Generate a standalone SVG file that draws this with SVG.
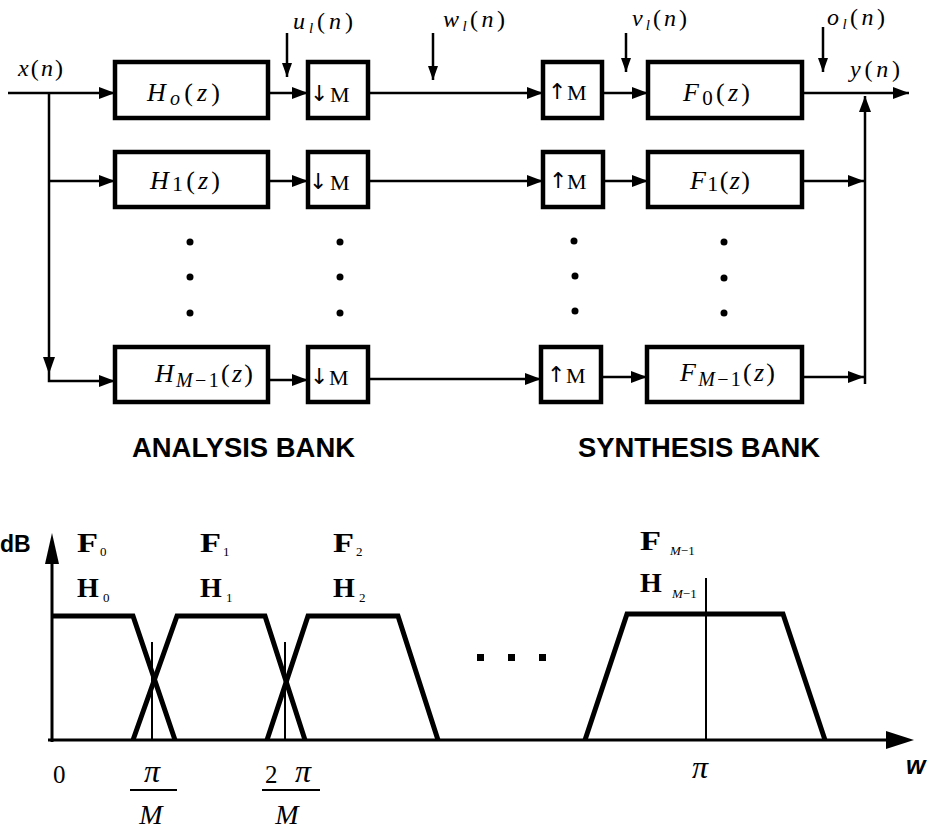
<svg xmlns="http://www.w3.org/2000/svg" width="928" height="833" viewBox="0 0 928 833">
<style>
.box{fill:#fff;stroke:#000;stroke-width:4.5}
.ln{fill:none;stroke:#000;stroke-width:2.5}
.thin{fill:none;stroke:#000;stroke-width:2}
.trap{fill:none;stroke:#000;stroke-width:5;stroke-linejoin:miter}
.math{font-family:"Liberation Serif","DejaVu Serif",serif;font-style:italic;font-size:24px;fill:#000}
.bm{font-family:"Liberation Serif","DejaVu Serif",serif;font-style:italic;font-size:26px;fill:#000}
.up{font-style:normal}
.lbl{font-family:"Liberation Serif","DejaVu Serif",serif;font-size:22px;fill:#000}
.arr{font-family:"DejaVu Sans",sans-serif;font-size:22px;fill:#000}
.bank{font-family:"Liberation Sans","Arial",sans-serif;font-weight:bold;font-size:28px;fill:#000}
.gl{font-family:"Liberation Serif","DejaVu Serif",serif;font-weight:bold;font-size:28px;fill:#000}
.gs{font-family:"Liberation Serif","DejaVu Serif",serif;font-size:13px;fill:#000}
.big{font-family:"Liberation Serif","DejaVu Serif",serif;font-style:italic;font-size:28px;fill:#000}
.pi{font-family:"Liberation Serif","DejaVu Serif",serif;font-style:italic;font-size:32px;fill:#000}
.dot{fill:#000}
</style>
<defs>
<marker id="ah" viewBox="0 0 16 12" refX="16" refY="6" markerWidth="16" markerHeight="12" markerUnits="userSpaceOnUse" orient="auto">
<path d="M0,0 L16,6 L0,12 z" fill="#000"/>
</marker>
<marker id="ahs" viewBox="0 0 14 10" refX="14" refY="5" markerWidth="14" markerHeight="10" markerUnits="userSpaceOnUse" orient="auto">
<path d="M0,0 L14,5 L0,10 z" fill="#000"/>
</marker>
</defs>

<g id="connectors">
<line class="ln" x1="8" y1="93" x2="115" y2="93" marker-end="url(#ah)"/>
<path class="ln" d="M49,93 V381 H115" marker-end="url(#ah)"/>
<polygon points="43,357 55,357 49,374" fill="#000"/>
<line class="ln" x1="49" y1="181" x2="115" y2="181" marker-end="url(#ah)"/>
<line class="ln" x1="268" y1="93" x2="308" y2="93" marker-end="url(#ah)"/>
<line class="ln" x1="268" y1="181" x2="308" y2="181" marker-end="url(#ah)"/>
<line class="ln" x1="268" y1="380" x2="308" y2="380" marker-end="url(#ah)"/>
<line class="ln" x1="368" y1="93" x2="543" y2="93" marker-end="url(#ah)"/>
<line class="ln" x1="368" y1="181" x2="543" y2="181" marker-end="url(#ah)"/>
<line class="ln" x1="368" y1="379" x2="541" y2="379" marker-end="url(#ah)"/>
<line class="ln" x1="602" y1="93" x2="648" y2="93" marker-end="url(#ah)"/>
<line class="ln" x1="603" y1="181" x2="648" y2="181" marker-end="url(#ah)"/>
<line class="ln" x1="601" y1="377" x2="647" y2="377" marker-end="url(#ah)"/>
<line class="ln" x1="802" y1="93" x2="909" y2="93" marker-end="url(#ah)"/>
<line class="ln" x1="802" y1="181" x2="864" y2="181" marker-end="url(#ah)"/>
<line class="ln" x1="802" y1="377" x2="864" y2="377" marker-end="url(#ah)"/>
<line class="ln" x1="865" y1="384" x2="865" y2="96" marker-end="url(#ah)"/>
<line class="ln" x1="287" y1="33" x2="287" y2="77" marker-end="url(#ahs)"/>
<line class="ln" x1="433" y1="33" x2="433" y2="80" marker-end="url(#ahs)"/>
<line class="ln" x1="626" y1="33" x2="626" y2="72" marker-end="url(#ahs)"/>
<line class="ln" x1="823" y1="27" x2="823" y2="72" marker-end="url(#ahs)"/>
</g>

<g id="labels">
<text class="math" x="18" y="76" textLength="45" lengthAdjust="spacing">x<tspan class="up">(</tspan>n<tspan class="up">)</tspan></text>
<text class="math" x="293" y="29" textLength="60" lengthAdjust="spacing">u<tspan font-size="15" dy="4">l</tspan><tspan class="up" dy="-4">(</tspan>n<tspan class="up">)</tspan></text>
<text class="math" x="443" y="27" textLength="62" lengthAdjust="spacing">w<tspan font-size="15" dy="4">l</tspan><tspan class="up" dy="-4">(</tspan>n<tspan class="up">)</tspan></text>
<text class="math" x="632" y="26" textLength="55" lengthAdjust="spacing">v<tspan font-size="15" dy="4">l</tspan><tspan class="up" dy="-4">(</tspan>n<tspan class="up">)</tspan></text>
<text class="math" x="827" y="25" textLength="58" lengthAdjust="spacing">o<tspan font-size="15" dy="4">l</tspan><tspan class="up" dy="-4">(</tspan>n<tspan class="up">)</tspan></text>
<text class="math" x="850" y="77" textLength="50" lengthAdjust="spacing">y<tspan class="up">(</tspan>n<tspan class="up">)</tspan></text>
</g>

<g id="H0"><rect class="box" x="115" y="62" width="153" height="56"/>
<text class="bm" x="147" y="101" textLength="73" lengthAdjust="spacing">H<tspan font-size="20" dy="4">o</tspan><tspan class="up" dy="-4">(</tspan>z<tspan class="up">)</tspan></text></g>
<g id="D0"><rect class="box" x="308" y="62" width="60" height="56"/>
<text class="arr" x="310" y="101">↓</text><text class="lbl" x="330" y="102">M</text></g>
<g id="U0"><rect class="box" x="543" y="62" width="59" height="56"/>
<text class="arr" x="548" y="99">↑</text><text class="lbl" x="567" y="100">M</text></g>
<g id="F0"><rect class="box" x="648" y="62" width="154" height="56"/>
<text class="bm" x="683" y="101" textLength="67" lengthAdjust="spacing">F<tspan class="up" font-size="21" dy="4">0</tspan><tspan class="up" dy="-4">(</tspan>z<tspan class="up">)</tspan></text></g>

<g id="H1"><rect class="box" x="115" y="152" width="153" height="55"/>
<text class="bm" x="150" y="189" textLength="70" lengthAdjust="spacing">H<tspan class="up" font-size="22" dy="2">1</tspan><tspan class="up" dy="-2">(</tspan>z<tspan class="up">)</tspan></text></g>
<g id="D1"><rect class="box" x="308" y="152" width="60" height="55"/>
<text class="arr" x="309" y="189">↓</text><text class="lbl" x="330" y="190">M</text></g>
<g id="U1"><rect class="box" x="543" y="152" width="60" height="55"/>
<text class="arr" x="549" y="188">↑</text><text class="lbl" x="567" y="189">M</text></g>
<g id="F1"><rect class="box" x="648" y="152" width="154" height="55"/>
<text class="bm" x="690" y="189" textLength="60" lengthAdjust="spacing">F<tspan class="up" font-size="22" dy="2">1</tspan><tspan class="up" dy="-2">(</tspan>z<tspan class="up">)</tspan></text></g>

<g id="HM"><rect class="box" x="115" y="347" width="153" height="55"/>
<text class="bm" x="155" y="382" textLength="98" lengthAdjust="spacing">H<tspan font-size="20" dy="5">M</tspan><tspan class="up" font-size="20">−1</tspan><tspan class="up" dy="-5">(</tspan>z<tspan class="up">)</tspan></text></g>
<g id="DM"><rect class="box" x="308" y="347" width="60" height="55"/>
<text class="arr" x="310" y="384">↓</text><text class="lbl" x="329" y="385">M</text></g>
<g id="UM"><rect class="box" x="541" y="347" width="60" height="55"/>
<text class="arr" x="547" y="382">↑</text><text class="lbl" x="566" y="383">M</text></g>
<g id="FM"><rect class="box" x="647" y="347" width="155" height="55"/>
<text class="bm" x="680" y="381" textLength="95" lengthAdjust="spacing">F<tspan font-size="20" dy="5">M</tspan><tspan class="up" font-size="20">−1</tspan><tspan class="up" dy="-5">(</tspan>z<tspan class="up">)</tspan></text></g>

<g id="dots">
<circle class="dot" cx="190" cy="242" r="3.5"/><circle class="dot" cx="190" cy="277" r="3.5"/><circle class="dot" cx="190" cy="313" r="3.5"/>
<circle class="dot" cx="340" cy="242" r="3.5"/><circle class="dot" cx="340" cy="277" r="3.5"/><circle class="dot" cx="340" cy="313" r="3.5"/>
<circle class="dot" cx="574" cy="241" r="3.5"/><circle class="dot" cx="575" cy="276" r="3.5"/><circle class="dot" cx="575" cy="311" r="3.5"/>
<circle class="dot" cx="724" cy="242" r="3.5"/><circle class="dot" cx="724" cy="278" r="3.5"/><circle class="dot" cx="724" cy="313" r="3.5"/>
</g>

<text class="bank" x="132" y="457" textLength="223" lengthAdjust="spacingAndGlyphs">ANALYSIS BANK</text>
<text class="bank" x="578" y="457" textLength="242" lengthAdjust="spacingAndGlyphs">SYNTHESIS BANK</text>

<g id="graph">
<line x1="52" y1="742" x2="52" y2="556" stroke="#000" stroke-width="3"/>
<polygon points="45,564 59,564 52,533" fill="#000"/>
<line x1="48" y1="740" x2="896" y2="740" stroke="#000" stroke-width="3"/>
<polygon points="886,731 886,749 914,740" fill="#000"/>
<polyline class="trap" points="52,616 133,616 175,740"/>
<polyline class="trap" points="133,740 177,616 265,616 305,740"/>
<polyline class="trap" points="267,740 308,616 398,616 438,740"/>
<polyline class="trap" points="585,740 627,614 783,614 825,740"/>
<line class="thin" x1="152" y1="642" x2="152" y2="740"/>
<line class="thin" x1="285" y1="642" x2="285" y2="740"/>
<line class="thin" x1="706" y1="578" x2="706" y2="740"/>
<rect x="477" y="654" width="7" height="7"/>
<rect x="508" y="654" width="7" height="7"/>
<rect x="539" y="654" width="7" height="7"/>
<text font-family="Liberation Sans,Arial,sans-serif" font-weight="bold" font-size="23" x="0" y="552">dB</text>
<text class="gl" x="77" y="552" textLength="21" lengthAdjust="spacingAndGlyphs">F</text><text class="gs" x="100" y="556">0</text>
<text class="gl" x="77" y="597">H</text><text class="gs" x="103" y="602">0</text>
<text class="gl" x="200" y="552" textLength="21" lengthAdjust="spacingAndGlyphs">F</text><text class="gs" x="223" y="556">1</text>
<text class="gl" x="200" y="597">H</text><text class="gs" x="226" y="602">1</text>
<text class="gl" x="333" y="552" textLength="21" lengthAdjust="spacingAndGlyphs">F</text><text class="gs" x="356" y="556">2</text>
<text class="gl" x="333" y="597">H</text><text class="gs" x="359" y="602">2</text>
<text class="gl" x="640" y="550" textLength="21" lengthAdjust="spacingAndGlyphs">F</text><text class="gs" x="670" y="555"><tspan font-style="italic">M</tspan>−1</text>
<text class="gl" x="640" y="592">H</text><text class="gs" x="672" y="598"><tspan font-style="italic">M</tspan>−1</text>
<text font-family="Liberation Serif,serif" font-size="25" x="53" y="783">0</text>
<text class="pi" x="152" y="782" text-anchor="middle">π</text>
<line x1="130" y1="790" x2="177" y2="790" stroke="#000" stroke-width="2"/>
<text class="big" x="151" y="824" text-anchor="middle">M</text>
<text font-family="Liberation Serif,serif" font-size="25" x="265" y="783">2</text>
<text class="pi" x="303" y="782" text-anchor="middle">π</text>
<line x1="262" y1="790" x2="320" y2="790" stroke="#000" stroke-width="2"/>
<text class="big" x="287" y="824" text-anchor="middle">M</text>
<text class="pi" x="700" y="778" text-anchor="middle">π</text>
<text font-family="Liberation Sans,Arial,sans-serif" font-weight="bold" font-style="italic" font-size="25" x="906" y="774">w</text>
</g>
</svg>
